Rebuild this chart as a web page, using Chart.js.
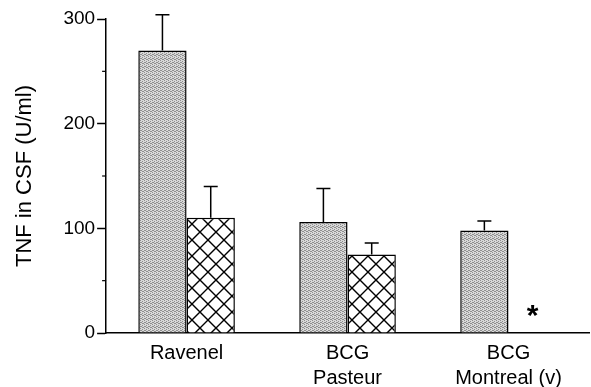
<!DOCTYPE html>
<html>
<head>
<meta charset="utf-8">
<script src="https://cdn.jsdelivr.net/npm/chart.js@4/dist/chart.umd.min.js"></script>
<style>
  html, body { margin: 0; padding: 0; background: #fff; }
  #wrap { width: 591px; height: 387px; }
</style>
</head>
<body>
<div id="wrap"><canvas id="tnfChart"></canvas></div>
<script>
const categories = [['Ravenel'], ['BCG', 'Pasteur'], ['BCG', 'Montreal (v)']]
const grayValues = [270, 106, 98]
const grayErrorTops = [304, 138, 107]
const hatchValues = [110, 75, 0]
const hatchErrorTops = [140, 86, null]
const yTicks = [0, 100, 200, 300]
const yMinorTicks = [50, 150, 250]
const starMarks = [null, null, '*']

;(() => {
  'use strict'

  const FONT = '"Liberation Sans", Arial, Helvetica, sans-serif'

  // stippled gray fill
  const grayPattern = (() => {
    const c = document.createElement('canvas')
    c.width = 4
    c.height = 4
    const g = c.getContext('2d')
    const dark = [[0, 0], [2, 1], [1, 2], [3, 3], [2, 3], [0, 2]]
    g.fillStyle = '#d8d8d8'
    g.fillRect(0, 0, 4, 4)
    g.fillStyle = '#8e8e8e'
    dark.forEach(([x, y]) => g.fillRect(x, y, 1, 1))
    return g.createPattern(c, 'repeat')
  })()

  // cross-hatch fill
  const hatchPattern = (() => {
    const c = document.createElement('canvas')
    c.width = 16
    c.height = 16
    const g = c.getContext('2d')
    g.fillStyle = '#fff'
    g.fillRect(0, 0, 16, 16)
    g.strokeStyle = '#000'
    g.lineWidth = 1.4
    g.beginPath()
    g.moveTo(0, 0); g.lineTo(16, 16)
    g.moveTo(16, 0); g.lineTo(0, 16)
    g.stroke()
    return g.createPattern(c, 'repeat')
  })()

  const errorBars = {
    id: 'errorBars',
    afterDatasetsDraw (chart) {
      const ctx = chart.ctx
      const y = chart.scales.y
      const sets = [grayErrorTops, hatchErrorTops]
      ctx.save()
      ctx.strokeStyle = '#000'
      ctx.lineWidth = 1.5
      sets.forEach((tops, di) => {
        chart.getDatasetMeta(di).data.forEach((bar, i) => {
          if (tops[i] == null) return
          const yt = y.getPixelForValue(tops[i])
          ctx.beginPath()
          ctx.moveTo(bar.x, bar.y)
          ctx.lineTo(bar.x, yt)
          ctx.moveTo(bar.x - 7, yt)
          ctx.lineTo(bar.x + 7, yt)
          ctx.stroke()
        })
      })
      // minor ticks on y axis
      const left = chart.chartArea.left
      ctx.lineWidth = 1.2
      yMinorTicks.forEach(v => {
        const py = y.getPixelForValue(v)
        ctx.beginPath()
        ctx.moveTo(left - 4, py)
        ctx.lineTo(left, py)
        ctx.stroke()
      })
      // significance marks
      ctx.fillStyle = '#000'
      ctx.font = 'bold 30px ' + FONT
      ctx.textAlign = 'center'
      ctx.textBaseline = 'middle'
      chart.getDatasetMeta(1).data.forEach((bar, i) => {
        if (!starMarks[i]) return
        ctx.fillText(starMarks[i], bar.x, bar.y - 16)
      })
      ctx.restore()
    }
  }

  // eslint-disable-next-line no-unused-vars
  const tnfChart = new Chart(document.getElementById('tnfChart'), {
    type: 'bar',
    data: {
      labels: categories,
      datasets: [
        {
          label: 'gray',
          data: grayValues,
          backgroundColor: grayPattern,
          borderColor: '#000',
          borderWidth: 1.5,
          barPercentage: 1,
          categoryPercentage: 0.6
        },
        {
          label: 'hatch',
          data: hatchValues,
          backgroundColor: hatchPattern,
          borderColor: '#000',
          borderWidth: 1.5,
          barPercentage: 1,
          categoryPercentage: 0.6
        }
      ]
    },
    options: {
      responsive: true,
      maintainAspectRatio: false,
      animation: false,
      layout: { padding: { top: 19, right: 2, bottom: -12, left: 12 } },
      plugins: {
        legend: { display: false },
        tooltip: { enabled: false }
      },
      scales: {
        x: {
          grid: { display: false, drawTicks: false },
          border: { color: '#000', width: 1.5 },
          ticks: {
            color: '#000',
            font: { family: FONT, size: 20, lineHeight: 1.25 },
            padding: 8,
            maxRotation: 0
          }
        },
        y: {
          min: 0,
          max: 300,
          afterBuildTicks: axis => { axis.ticks = yTicks.map(v => ({ value: v })) },
          grid: { drawOnChartArea: false, tickLength: 9, color: '#000', tickWidth: 1.5 },
          border: { color: '#000', width: 1.5 },
          ticks: {
            color: '#000',
            font: { family: FONT, size: 19 },
            padding: 2
          },
          title: {
            display: true,
            text: 'TNF in CSF (U/ml)',
            color: '#000',
            font: { family: FONT, size: 22 },
            padding: { top: 0, bottom: 23 }
          }
        }
      }
    },
    plugins: [errorBars]
  })
})()
</script>
</body>
</html>
